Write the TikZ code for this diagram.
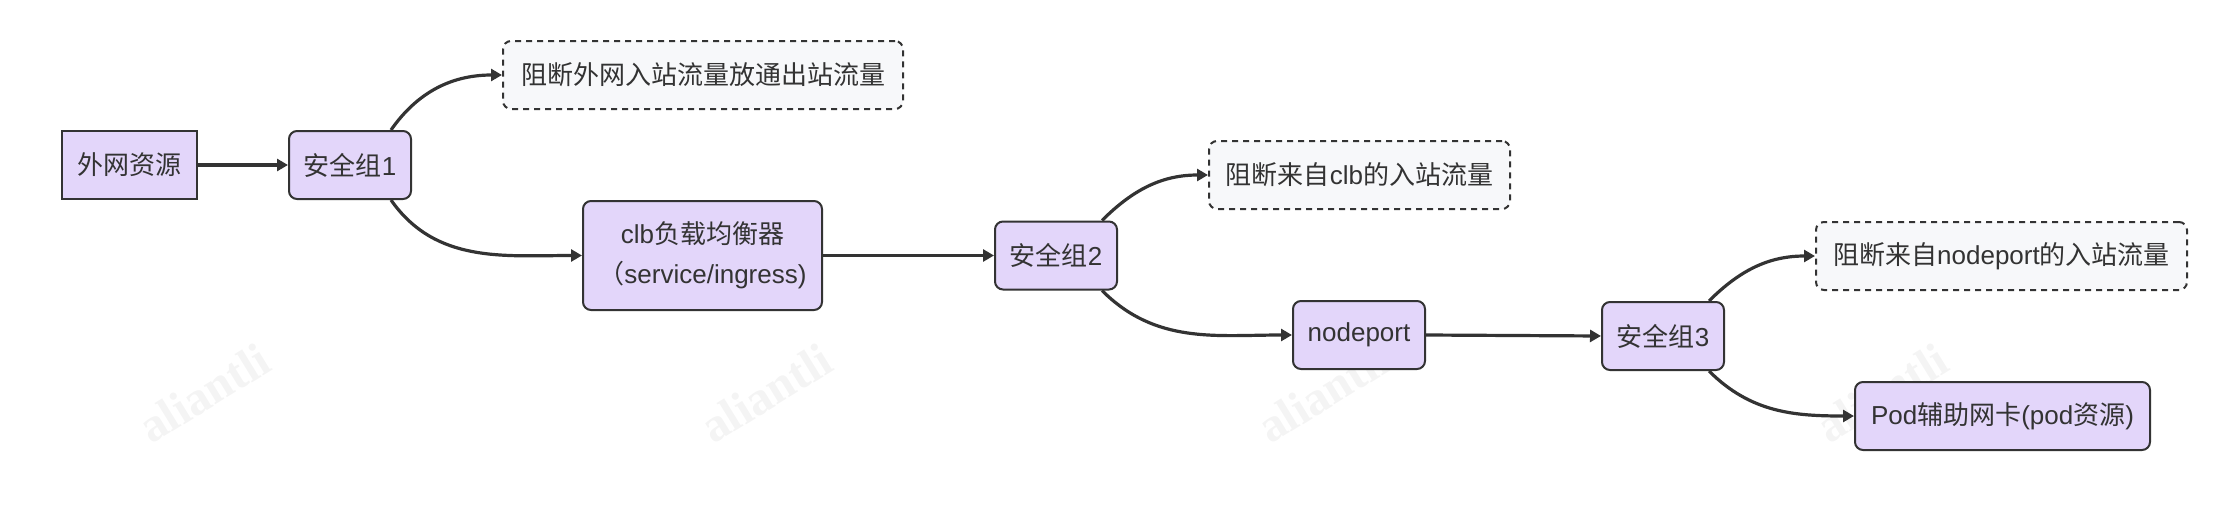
\documentclass[tikz,border=0pt]{standalone}
\usepackage{fontspec}
\setmainfont{Liberation Sans}
\newfontfamily\cjk{Noto Sans CJK SC}
\newfontfamily\wmfont{Liberation Serif}
\usetikzlibrary{arrows.meta}
\definecolor{boxfill}{HTML}{E3D6FA}
\definecolor{dashfill}{HTML}{F7F8FA}
\definecolor{ink}{HTML}{333333}
\definecolor{wm}{HTML}{F4F4F4}
\tikzset{
  base/.style={draw=ink, line width=1pt, text=ink, inner sep=0pt, minimum height=34pt,
    font=\fontsize{13pt}{20pt}\selectfont, align=center},
  sharpbox/.style={base, fill=boxfill},
  roundbox/.style={base, fill=boxfill, rounded corners=4pt},
  notebox/.style={base, fill=dashfill, rounded corners=4pt, dash pattern=on 3pt off 2.5pt},
  link/.style={draw=ink, line width=1.6pt, -{Triangle[length=5.5pt,width=6pt]}},
  wmark/.style={text=wm, font=\wmfont\bfseries\fontsize{24pt}{24pt}\selectfont, rotate=31.6}
}
\begin{document}
\begin{tikzpicture}[x=0.5pt,y=0.5pt]
\useasboundingbox (0,0) rectangle (2240,-514);
% watermarks
\node[wmark] (w1) at (204,-393) {aliantli};
\node[wmark] (w2) at (766,-393) {aliantli};
\node[wmark] (w3) at (1323,-393) {aliantli};
\node[wmark] (w4) at (1882,-393) {aliantli};
% nodes
\node[sharpbox, minimum width=67.5pt] (A) at (129.5,-165) {\cjk 外网资源};
\node[roundbox, minimum width=61pt] (S1) at (350,-165) {{\cjk 安全组}1};
\node[notebox, minimum width=200pt] (D1) at (703,-75) {\cjk 阻断外网入站流量放通出站流量};
\node[roundbox, minimum width=119.5pt, minimum height=54.5pt] (C) at (702.5,-255.5)
  {clb{\cjk 负载均衡器}\\{\cjk （}service/ingress)};
\node[roundbox, minimum width=61pt] (S2) at (1056,-255.5) {{\cjk 安全组}2};
\node[notebox, minimum width=150.5pt] (D2) at (1359.5,-175) {{\cjk 阻断来自}clb{\cjk 的入站流量}};
\node[roundbox, minimum width=66pt] (N) at (1359,-335) {nodeport};
\node[roundbox, minimum width=61pt] (S3) at (1663,-336) {{\cjk 安全组}3};
\node[notebox, minimum width=185.5pt] (D3) at (2001.5,-256) {{\cjk 阻断来自}nodeport{\cjk 的入站流量}};
\node[roundbox, minimum width=147.5pt] (P) at (2002.5,-416) {Pod{\cjk 辅助网卡}(pod{\cjk 资源})};
% connectors
\draw[link] (A.east) -- (S1.west);
\draw[link] ([xshift=-10.5pt]S1.north east) to[out=55,in=180] (D1.west);
\draw[link] ([xshift=-10.5pt]S1.south east) to[out=-55,in=180] (C.west);
\draw[link] (C.east) -- (S2.west);
\draw[link] ([xshift=-8pt]S2.north east) to[out=45,in=180] (D2.west);
\draw[link] ([xshift=-8pt]S2.south east) to[out=-45,in=180] (N.west);
\draw[link] (N.east) -- (S3.west);
\draw[link] ([xshift=-8pt]S3.north east) to[out=45,in=180] (D3.west);
\draw[link] ([xshift=-8pt]S3.south east) to[out=-45,in=180] (P.west);
\end{tikzpicture}
\end{document}
